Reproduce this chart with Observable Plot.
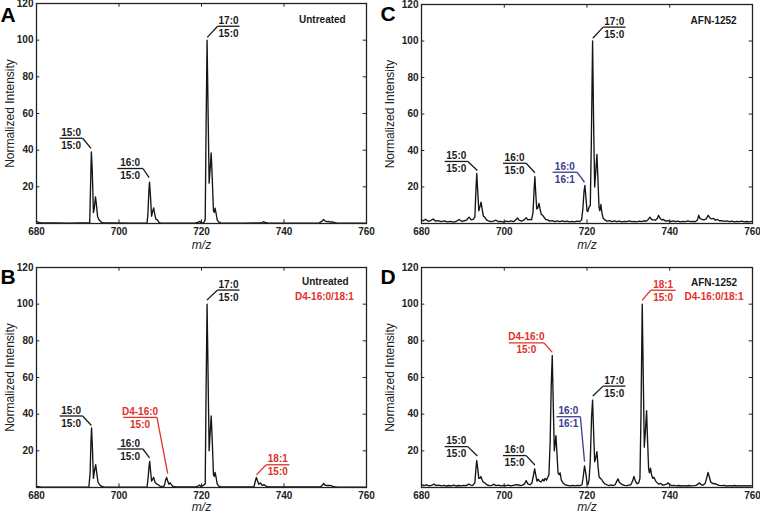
<!DOCTYPE html>
<html><head><meta charset="utf-8">
<script src="https://cdn.jsdelivr.net/npm/d3@7"></script>
<script src="https://cdn.jsdelivr.net/npm/@observablehq/plot@0.6"></script>
<style>
body{margin:0;background:#fff;}
#wrap{position:relative;width:760px;height:514px;overflow:hidden;background:#fff;}
.panel{position:absolute;width:380px;height:257px;}
</style></head><body><div id="wrap"></div>
<script>
const xTicks = [680,700,720,740,760];
const yTicks = [20,40,60,80,100,120];

// Panel A: Untreated
const specA = [[680,1.2],[680.5,0.6],[681,0.4],[682,0.3],[685,0.3],[688,0.2],[690,0.3],[692.5,0.3],[692.9,0.5],[693.1,20],[693.3,39],[693.5,30],[693.8,6],[694.0,8],[694.3,14.5],[694.5,11],[694.8,4],[695.1,2.2],[695.4,1.5],[695.8,0.6],[696.3,0.3],[699,0.3],[703,0.2],[706.8,0.3],[707.0,5],[707.25,18],[707.4,22.6],[707.6,16],[707.9,4],[708.1,6],[708.4,8.5],[708.6,6],[708.9,2.5],[709.3,2.0],[709.6,0.8],[710,0.3],[715,0.2],[718.5,0.3],[719.3,0.7],[719.6,1.2],[719.9,0.4],[720.5,0.3],[720.9,2],[721.1,50],[721.35,100],[721.6,60],[721.85,22],[722.1,30],[722.35,38.5],[722.6,25],[722.9,7],[723.1,6],[723.3,8.4],[723.5,6],[723.8,2],[724.2,0.8],[724.7,0.3],[730,0.2],[734.6,0.3],[735,1.0],[735.4,0.6],[736,0.3],[737,0.2],[745,0.2],[748.5,0.3],[749.2,1.2],[749.6,2.2],[750,1.3],[750.4,1.0],[750.8,1.1],[751.3,0.8],[751.8,0.9],[752.3,0.4],[753,0.2],[760,0.2]];

// Panel B: Untreated + D4-16:0/18:1
const specB = [[680,0.6],[681,0.3],[685,0.2],[692.7,0.3],[693.0,8],[693.2,25],[693.35,32.5],[693.55,22],[693.8,5],[694.05,9],[694.35,12.5],[694.6,8],[694.9,3],[695.3,1.5],[695.8,0.6],[696.4,0.3],[700,0.2],[706.8,0.3],[707.05,5],[707.3,12],[707.45,14.2],[707.65,9],[707.9,3.5],[708.15,4.5],[708.4,5.5],[708.7,3],[709.1,2],[709.5,1.5],[709.9,0.8],[710.5,0.4],[711.0,1],[711.3,4],[711.55,5.5],[711.8,3.5],[712.1,1.8],[712.4,2.6],[712.7,1.5],[713.1,0.6],[713.8,0.3],[718.5,0.3],[719.2,0.8],[719.5,1.4],[719.9,0.4],[720.9,2],[721.1,50],[721.35,100],[721.6,60],[721.85,20],[722.1,30],[722.35,39],[722.6,26],[722.9,7],[723.1,6],[723.3,8.2],[723.5,6],[723.8,2],[724.2,0.8],[724.7,0.3],[732.7,0.3],[733.0,3],[733.3,5.5],[733.6,3.5],[733.9,1.8],[734.3,2.5],[734.7,1.2],[735.2,1.5],[735.6,0.8],[736.2,0.3],[748.8,0.3],[749.3,1.2],[749.6,2.2],[750.0,1.2],[750.5,1.1],[751,1.1],[751.5,1.0],[752,0.4],[753,0.2],[760,0.2]];

// Panel C: AFN-1252
const specC = [[680,2.0],[680.5,1.5],[681,2.3],[681.6,1.2],[682.2,1.6],[682.8,2.5],[683.4,1.3],[684,1.6],[684.8,1.0],[685.5,1.4],[686.2,0.9],[687,1.2],[687.8,0.8],[688.5,1.3],[689.1,2.2],[689.7,1.2],[690.3,1.5],[690.9,1.9],[691.5,3.5],[692,2.0],[692.5,2.3],[692.9,3.5],[693.15,18],[693.35,27.5],[693.6,17],[693.85,7],[694.1,9],[694.4,11.7],[694.65,8],[694.95,4],[695.3,3.5],[695.7,2.0],[696.2,1.5],[696.8,1.0],[697.4,1.3],[698,1.8],[698.6,1.0],[699.2,1.2],[699.8,0.8],[700.4,1.3],[701,1.0],[701.6,1.4],[702.2,1.0],[702.8,2.0],[703.2,3.0],[703.6,1.8],[704.2,1.3],[704.8,2.0],[705.3,3.2],[705.7,2.0],[706.2,2.3],[706.6,2.0],[706.95,6],[707.2,18],[707.4,25.7],[707.6,17],[707.85,8],[708.1,8.5],[708.4,11],[708.65,8],[708.95,5],[709.3,4.5],[709.6,3.5],[710,2.2],[710.5,2.0],[711,1.3],[711.6,1.6],[712.2,1.0],[712.8,1.4],[713.4,1.0],[714,1.5],[714.6,1.0],[715.2,1.3],[715.8,0.9],[716.4,1.2],[717,0.9],[717.6,1.3],[718.2,1.0],[718.7,2.0],[719.0,8],[719.3,18],[719.5,20.8],[719.75,14],[720.0,7],[720.2,6.5],[720.5,9],[720.8,10],[721.05,45],[721.35,100],[721.6,55],[721.85,20],[722.1,28],[722.4,37.8],[722.65,24],[722.9,9],[723.1,7],[723.35,10.4],[723.6,6],[723.9,3],[724.3,2],[724.8,1.3],[725.4,1.6],[726,1.0],[726.6,1.4],[727.2,1.0],[727.8,1.3],[728.4,0.9],[729,1.2],[729.6,1.0],[730.2,1.5],[730.8,1.0],[731.4,1.2],[732,0.9],[732.6,1.3],[733.2,1.0],[733.8,1.5],[734.4,1.3],[734.9,2.5],[735.2,3.5],[735.6,2.2],[736.1,2.0],[736.5,1.8],[737,2.8],[737.3,4.5],[737.6,3.0],[738,2.0],[738.5,2.2],[739,1.3],[739.6,1.6],[740.2,1.0],[740.8,1.4],[741.4,1.0],[742,1.3],[742.6,0.9],[743.2,1.2],[743.8,1.0],[744.4,1.4],[745,1.0],[745.6,1.2],[746.2,1.0],[746.7,2.0],[747.0,4.5],[747.3,2.8],[747.8,2.2],[748.3,2.0],[748.8,2.5],[749.3,4.5],[749.7,3.0],[750.1,2.5],[750.6,2.8],[751,1.8],[751.5,2.2],[752,1.5],[752.6,1.6],[753.2,1.2],[753.8,1.4],[754.4,1.0],[755,1.3],[755.6,0.9],[756.2,1.2],[756.8,1.0],[757.4,1.3],[758,0.9],[758.6,1.1],[759.2,0.9],[760,1.2]];

// Panel D: AFN-1252 + D4-16:0/18:1
const specD = [[680,1.5],[680.6,1.0],[681.2,1.4],[681.8,0.9],[682.4,1.2],[683,1.8],[683.6,1.0],[684.2,1.3],[684.8,0.9],[685.4,1.2],[686,0.8],[686.6,1.1],[687.2,0.9],[687.8,1.3],[688.4,0.8],[689,1.1],[689.6,0.9],[690.2,1.2],[690.8,1.0],[691.4,1.8],[691.9,1.3],[692.4,1.2],[692.9,2.5],[693.15,10],[693.35,14.7],[693.6,10],[693.85,5],[694.1,5],[694.35,6],[694.6,4.5],[694.9,3.0],[695.3,2.5],[695.8,1.5],[696.4,1.0],[697,1.2],[697.5,1.8],[698,1.0],[698.6,1.3],[699.2,0.9],[699.8,1.2],[700.4,1.0],[701,1.3],[701.6,0.9],[702.2,1.2],[702.8,1.5],[703.3,1.6],[703.8,1.0],[704.4,1.3],[704.9,2.0],[705.3,3.8],[705.7,2.0],[706.2,1.5],[706.7,2.5],[707.0,6],[707.35,10.2],[707.6,7],[707.9,3.5],[708.2,4.5],[708.5,3.5],[708.9,3.0],[709.3,4.5],[709.6,3.5],[709.9,5.0],[710.2,4.0],[710.5,5.5],[710.8,7],[711.1,25],[711.35,55],[711.6,72],[711.85,45],[712.1,20],[712.3,24],[712.5,28.3],[712.75,18],[713.0,8],[713.25,7],[713.5,8],[713.8,4],[714.2,2.5],[714.7,1.5],[715.3,1.2],[715.9,0.9],[716.5,1.2],[717.1,0.9],[717.7,1.2],[718.3,1.0],[718.8,1.5],[719.1,6],[719.4,11.8],[719.7,8],[720.0,2.5],[720.2,1.5],[720.5,4],[720.8,15],[721.1,38],[721.35,47.7],[721.6,30],[721.85,14],[722.1,16],[722.4,19.6],[722.65,12],[722.9,6],[723.2,5],[723.5,4.5],[723.9,3],[724.3,2.0],[724.8,1.5],[725.3,1.0],[725.8,1.4],[726.3,1.0],[726.8,1.5],[727.2,3.5],[727.5,4.7],[727.8,3.0],[728.2,2.0],[728.6,1.5],[729.1,1.2],[729.6,1.0],[730.1,1.3],[730.6,1.5],[731.0,3.5],[731.35,6],[731.7,3.5],[732.1,2.0],[732.5,2.5],[732.8,5],[733.05,40],[733.35,100],[733.6,60],[733.85,22],[734.1,30],[734.4,41.9],[734.65,25],[734.9,10],[735.1,8],[735.35,10.5],[735.6,7],[735.9,5],[736.2,5.5],[736.6,3.5],[737,2.5],[737.4,1.8],[737.8,2.2],[738.3,1.3],[738.8,1.5],[739.3,2.0],[739.6,2.5],[740,1.5],[740.5,1.0],[741,1.2],[741.6,0.9],[742.2,1.1],[742.8,0.8],[743.4,1.0],[744,0.8],[744.6,1.1],[745.2,0.9],[745.8,1.0],[746.4,1.2],[746.9,2.0],[747.2,2.5],[747.6,1.5],[748.1,1.3],[748.6,2.5],[748.9,5],[749.25,8.2],[749.55,6],[749.9,3.0],[750.2,2.5],[750.6,2.0],[751,2.2],[751.5,1.5],[752,1.2],[752.6,1.0],[753.2,1.2],[753.8,0.8],[754.4,1.0],[755,0.8],[755.6,1.1],[756.2,0.8],[756.8,1.0],[757.4,0.8],[758,1.0],[758.6,0.8],[759.2,1.0],[760,0.9]];

// Peak labels: top/bottom acyl chains, kind (n = native, d = D4-labelled, u = unsaturated), label bar x1..x2 at y, leader to peak tip
const labelsA = [
  {top:"15:0", bottom:"15:0", kind:"n", x1:685.6, x2:691.2, y:46.5, tipX:693.2, tipY:41, elbow:"right"},
  {top:"16:0", bottom:"15:0", kind:"n", x1:699.6, x2:705.8, y:30, tipX:707.3, tipY:25, elbow:"right"},
  {top:"17:0", bottom:"15:0", kind:"n", x1:723.9, x2:729.2, y:107.6, tipX:721.4, tipY:101.5, elbow:"left"}
];
const labelsB = [
  {top:"15:0", bottom:"15:0", kind:"n", x1:685.6, x2:691.2, y:39, tipX:693.3, tipY:33.8, elbow:"right"},
  {top:"16:0", bottom:"15:0", kind:"n", x1:699.6, x2:705.8, y:21, tipX:707.4, tipY:16.1, elbow:"right"},
  {top:"D4-16:0", bottom:"15:0", kind:"d", x1:701.0, x2:709.2, y:38.3, tipX:711.8, tipY:7.7, elbow:"right"},
  {top:"17:0", bottom:"15:0", kind:"n", x1:723.9, x2:729.2, y:107.7, tipX:721.3, tipY:102.2, elbow:"left"},
  {top:"18:1", bottom:"15:0", kind:"d", x1:735.7, x2:741.3, y:12.4, tipX:733.3, tipY:6.9, elbow:"left"}
];
const labelsC = [
  {top:"15:0", bottom:"15:0", kind:"n", x1:685.6, x2:691.2, y:34, tipX:693.5, tipY:29, elbow:"right"},
  {top:"16:0", bottom:"15:0", kind:"n", x1:699.7, x2:705.3, y:33, tipX:707.4, tipY:27.8, elbow:"right"},
  {top:"16:0", bottom:"16:1", kind:"u", x1:711.7, x2:717.6, y:28.1, tipX:719.4, tipY:22.6, elbow:"right"},
  {top:"17:0", bottom:"15:0", kind:"n", x1:723.9, x2:729.3, y:107.6, tipX:721.4, tipY:101.5, elbow:"left"}
];
const labelsD = [
  {top:"15:0", bottom:"15:0", kind:"n", x1:685.6, x2:691.2, y:22.3, tipX:693.5, tipY:17.2, elbow:"right"},
  {top:"16:0", bottom:"15:0", kind:"n", x1:699.7, x2:705.3, y:17.4, tipX:707.4, tipY:12.3, elbow:"right"},
  {top:"D4-16:0", bottom:"15:0", kind:"d", x1:701.1, x2:709.6, y:78.9, tipX:711.6, tipY:73.7, elbow:"right"},
  {top:"16:0", bottom:"16:1", kind:"u", x1:712.6, x2:718.4, y:38.6, tipX:719.4, tipY:14.1, elbow:"right"},
  {top:"17:0", bottom:"15:0", kind:"n", x1:723.9, x2:729.3, y:55.3, tipX:721.4, tipY:49.9, elbow:"left"},
  {top:"18:1", bottom:"15:0", kind:"d", x1:735.4, x2:741.4, y:107.6, tipX:733.3, tipY:102.1, elbow:"left"}
];

// Condition captions (top right of each panel)
const titlesA = [{text:"Untreated", kind:"n", x:749.3, y:111}];
const titlesB = [{text:"Untreated", kind:"n", x:750, y:112}, {text:"D4-16:0/18:1", kind:"d", x:749.8, y:104}];
const titlesC = [{text:"AFN-1252", kind:"n", x:750.6, y:111.2}];
const titlesD = [{text:"AFN-1252", kind:"n", x:750.7, y:111.7}, {text:"D4-16:0/18:1", kind:"d", x:750.7, y:104}];

const colors = {n:"#1a1a1a", d:"#e1302a", u:"#3d3b8e"};
const FONT = "'Liberation Sans', Arial, Helvetica, sans-serif";

function panel(spec, labels, titles, letter, m, letterDy) {
  const segs = labels.flatMap(l => [
    {x1:l.x1, x2:l.x2, y1:l.y, y2:l.y, kind:l.kind},
    {x1:l.elbow === "left" ? l.x1 : l.x2, y1:l.y, x2:l.tipX, y2:l.tipY, kind:l.kind}
  ]);
  return Plot.plot({
    width:380, height:257,
    marginTop:m.top, marginRight:m.right, marginBottom:m.bottom, marginLeft:m.left,
    x:{domain:[680,760], label:null},
    y:{domain:[0,120], label:null},
    color:{type:"identity"},
    style:{fontFamily:FONT, fontSize:"10px", background:"white", overflow:"visible"},
    marks:[
      Plot.line(spec, {x:d => d[0], y:d => d[1], stroke:"#151515", strokeWidth:1.35, clip:true}),
      Plot.ruleX(xTicks, {x:d => d, y1:0, y2:2, stroke:"#222"}),
      Plot.ruleX(xTicks, {x:d => d, y1:120, y2:118, stroke:"#222"}),
      Plot.ruleY(yTicks, {y:d => d, x1:680, x2:680.8, stroke:"#222"}),
      Plot.ruleY(yTicks, {y:d => d, x1:760, x2:759.2, stroke:"#222"}),
      Plot.frame({stroke:"#222", strokeWidth:1.3}),
      Plot.axisX(xTicks, {tickSize:0, tickPadding:4, fontWeight:"bold", fontSize:10, fill:"#222", label:null}),
      Plot.axisY(yTicks, {tickSize:0, tickPadding:3, fontWeight:"bold", fontSize:10, fill:"#222", label:null}),
      Plot.link(segs, {x1:"x1", y1:"y1", x2:"x2", y2:"y2", stroke:d => colors[d.kind], strokeWidth:1.3}),
      Plot.text(labels, {x:d => (d.x1 + d.x2) / 2, y:"y", text:"top", lineAnchor:"bottom", dy:-2.5, fill:d => colors[d.kind], fontWeight:"bold", fontSize:10}),
      Plot.text(labels, {x:d => (d.x1 + d.x2) / 2, y:"y", text:"bottom", lineAnchor:"top", dy:3.5, fill:d => colors[d.kind], fontWeight:"bold", fontSize:10}),
      Plot.text(titles, {x:"x", y:"y", text:"text", fill:d => colors[d.kind], fontWeight:"bold", fontSize:10}),
      Plot.text(["Normalized Intensity"], {text:d => d, frameAnchor:"left", textAnchor:"middle", lineAnchor:"middle", rotate:-90, dx:m.ylab, fontSize:12, fill:"#222"}),
      Plot.text(["m/z"], {text:d => d, frameAnchor:"bottom", textAnchor:"middle", lineAnchor:"middle", dy:m.mz, fontSize:12, fontStyle:"italic", fill:"#222"}),
      Plot.text([letter], {text:d => d, frameAnchor:"top-left", textAnchor:"start", lineAnchor:"bottom", dx:-m.left, dy:letterDy, fontSize:21, fontWeight:"bold", fill:"#000"})
    ]
  });
}

const wrap = document.getElementById("wrap");
const specs = [
  {spec:specA, labels:labelsA, titles:titlesA, letter:"A", pos:[0,0], m:{top:3, right:14, bottom:34, left:36, ylab:-26, mz:22}, ld:18.7},
  {spec:specC, labels:labelsC, titles:titlesC, letter:"C", pos:[380,0], m:{top:4, right:8, bottom:34, left:41, ylab:-31, mz:22}, ld:16},
  {spec:specB, labels:labelsB, titles:titlesB, letter:"B", pos:[0,257], m:{top:10, right:14, bottom:27, left:36, ylab:-26, mz:19.5}, ld:16.7},
  {spec:specD, labels:labelsD, titles:titlesD, letter:"D", pos:[380,257], m:{top:10, right:8, bottom:27, left:41, ylab:-31, mz:19.5}, ld:16.7}
];
for (const p of specs) {
  const div = document.createElement("div");
  div.className = "panel";
  div.style.left = p.pos[0] + "px";
  div.style.top = p.pos[1] + "px";
  div.appendChild(panel(p.spec, p.labels, p.titles, p.letter, p.m, p.ld));
  wrap.appendChild(div);
}
</script>
</body></html>
